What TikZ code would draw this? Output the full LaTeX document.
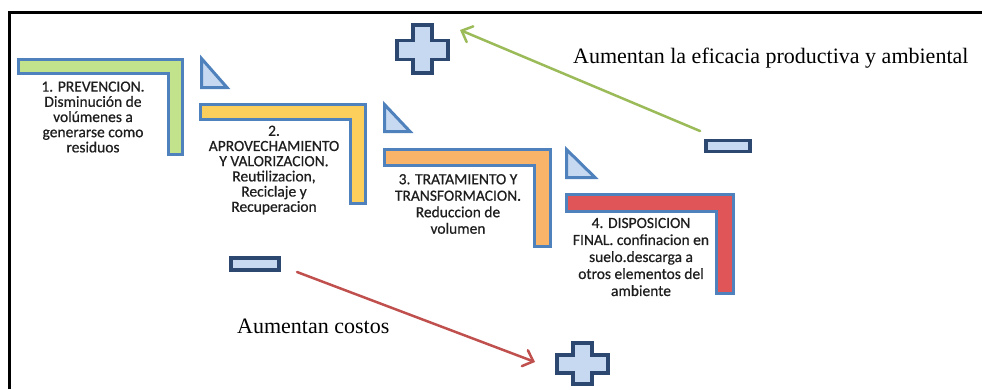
\documentclass[tikz,border=0pt]{standalone}
\usepackage{fontspec}
\setmainfont{Liberation Serif}
\newfontfamily\calfont[FakeBold=0.6]{Carlito}
\usetikzlibrary{arrows.meta}
\definecolor{lborder}{HTML}{4F81BD}
\definecolor{trifill}{HTML}{C6D9F1}
\definecolor{navy}{HTML}{2C4770}
\definecolor{pmfill}{HTML}{C6D9F1}
\definecolor{fgreen}{HTML}{C3E28C}
\definecolor{fyellow}{HTML}{FCCF5C}
\definecolor{forange}{HTML}{FAB46A}
\definecolor{fred}{HTML}{DF5558}
\definecolor{txt}{HTML}{1E1E1E}
\definecolor{agreen}{HTML}{9BBB59}
\definecolor{ared}{HTML}{C0504D}
\begin{document}
\begin{tikzpicture}[x=1pt,y=-1pt,
  lshape/.style={draw=lborder, line width=3pt, line join=miter},
  tri/.style={draw=lborder, fill=trifill, line width=3pt, line join=miter},
  pm/.style={draw=navy, fill=pmfill, line width=3.5pt, line join=miter},
  lbl/.style={font=\calfont\fontsize{15.5}{15.2}\selectfont, align=center, text=txt, inner sep=0pt},
  capt/.style={font=\fontsize{22}{26}\selectfont, inner sep=0pt, anchor=base west, text=black},
  arr/.style={line width=2.5pt, line cap=round, -{Straight Barb[length=9pt,width=17pt,line cap=round]}}]
\useasboundingbox (0,0) rectangle (982,389);
% frame
\draw[line width=2.5pt] (9.5,389) -- (9.5,12.5) -- (982,12.5);
% L-shapes
\draw[lshape, fill=fgreen] (18.5,59.5) -- (182.5,59.5) -- (182.5,154.5) -- (168.5,154.5) -- (168.5,73.5) -- (18.5,73.5) -- cycle;
\draw[lshape, fill=fyellow] (200.5,104.5) -- (365.5,104.5) -- (365.5,203.5) -- (350.5,203.5) -- (350.5,119.5) -- (200.5,119.5) -- cycle;
\draw[lshape, fill=forange] (384.5,149.5) -- (550.5,149.5) -- (550.5,246.5) -- (534.5,246.5) -- (534.5,165.5) -- (384.5,165.5) -- cycle;
\draw[lshape, fill=fred] (566.5,194.5) -- (733.5,194.5) -- (733.5,293.5) -- (716.5,293.5) -- (716.5,211.5) -- (566.5,211.5) -- cycle;
% triangles
\draw[tri] (201.5,58.5) -- (201.5,87.5) -- (227,87.5) -- cycle;
\draw[tri] (384.5,104.5) -- (384.5,131.5) -- (410,131.5) -- cycle;
\draw[tri] (566.5,149.5) -- (566.5,177.5) -- (595,177.5) -- cycle;
% texts
\node[lbl] (t1) at (93,117) {1. PREVENCION.\\Disminución de\\volúmenes a\\generarse como\\residuos};
\node[lbl] (t2) at (274,170) {2.\\APROVECHAMIENTO\\Y VALORIZACION.\\Reutilizacion,\\Reciclaje y\\Recuperacion};
\node[lbl, font=\calfont\fontsize{15.5}{16.5}\selectfont] (t3) at (458,204) {3. TRATAMIENTO Y\\TRANSFORMACION.\\Reduccion de\\volumen};
\node[lbl, font=\calfont\fontsize{15.5}{17}\selectfont] (t4) at (641,257) {4. DISPOSICION\\FINAL. confinacion en\\suelo.descarga a\\otros elementos del\\ambiente};
% plus signs
\draw[pm] (413,25) -- (432,25) -- (432,40.5) -- (448,40.5) -- (448,59.5) -- (432,59.5) -- (432,73) -- (413,73) -- (413,59.5) -- (397,59.5) -- (397,40.5) -- (413,40.5) -- cycle;
\draw[pm] (573,343) -- (592,343) -- (592,355) -- (608,355) -- (608,373) -- (592,373) -- (592,384) -- (573,384) -- (573,373) -- (557,373) -- (557,355) -- (573,355) -- cycle;
% minus signs
\node[pm, rectangle, minimum width=48pt, minimum height=12pt, inner sep=0pt] (m1) at (255,264) {};
\node[pm, rectangle, minimum width=44pt, minimum height=11pt, inner sep=0pt] (m2) at (728,146) {};
\coordinate (p1) at (422,49);
\coordinate (p2) at (582,363);
% arrows
\coordinate (g0) at (700,131);
\coordinate (g1) at (460,30);
\draw[arr, draw=agreen] (g0) -- (g1);
\coordinate (r0) at (297,272);
\coordinate (r1) at (535,362);
\draw[arr, draw=ared] (r0) -- (r1);
% captions
\node[capt] (c1) at (573,63) {Aumentan la eficacia productiva y ambiental};
\node[capt] (c2) at (237,333) {Aumentan costos};
\end{tikzpicture}
\end{document}
